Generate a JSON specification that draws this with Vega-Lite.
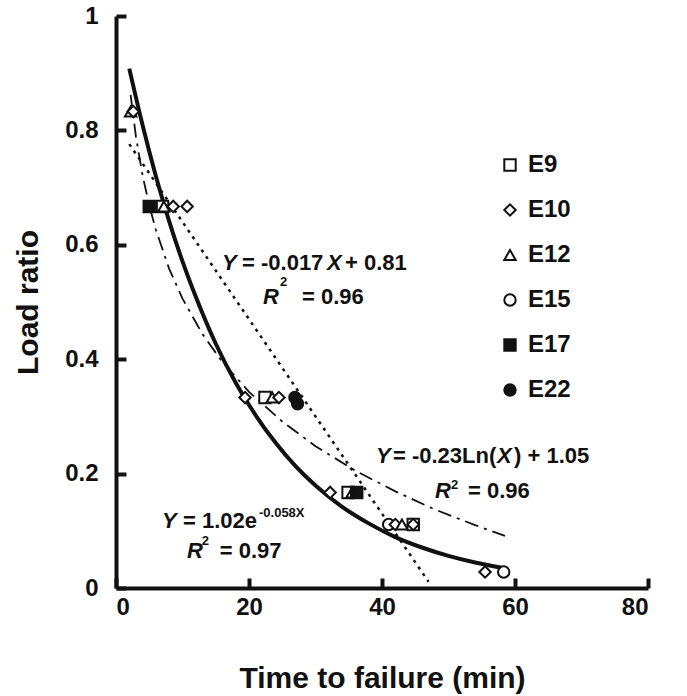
{
  "$schema": "https://vega.github.io/schema/vega-lite/v6.json",
  "width": 532,
  "height": 572,
  "autosize": "none",
  "padding": {"left": 116, "top": 16, "right": 39, "bottom": 108},
  "background": "white",
  "config": {
    "view": {"stroke": null},
    "font": "Liberation Sans",
    "axis": {
      "grid": false,
      "domainColor": "#111",
      "domainWidth": 4,
      "tickColor": "#111",
      "tickWidth": 4,
      "tickSize": -10,
      "labelFont": "Liberation Sans",
      "labelFontWeight": "bold",
      "labelFontSize": 24,
      "labelColor": "#111",
      "titleFont": "Liberation Sans",
      "titleFontWeight": "bold",
      "titleFontSize": 30,
      "titleColor": "#111"
    },
    "legend": {
      "orient": "none", "legendX": 382, "legendY": 137, "title": null,
      "labelFontSize": 24, "labelFontWeight": "bold", "labelFont": "Liberation Sans", "labelColor": "#111",
      "symbolSize": 130, "symbolStrokeWidth": 2, "symbolOpacity": 1,
      "rowPadding": 21, "labelOffset": 6, "padding": 0
    }
  },
  "datasets": {
    "points": [
      {"x": 2.2, "y": 0.833, "series": "E12"},
      {"x": 2.6, "y": 0.833, "series": "E10"},
      {"x": 5.0, "y": 0.667, "series": "E17"},
      {"x": 7.0, "y": 0.667, "series": "E9"},
      {"x": 7.2, "y": 0.667, "series": "E12"},
      {"x": 8.6, "y": 0.667, "series": "E10"},
      {"x": 10.7, "y": 0.667, "series": "E10"},
      {"x": 19.4, "y": 0.333, "series": "E10"},
      {"x": 22.4, "y": 0.333, "series": "E9"},
      {"x": 23.5, "y": 0.333, "series": "E12"},
      {"x": 24.5, "y": 0.333, "series": "E10"},
      {"x": 26.9, "y": 0.333, "series": "E22"},
      {"x": 27.3, "y": 0.322, "series": "E22"},
      {"x": 32.2, "y": 0.167, "series": "E10"},
      {"x": 34.9, "y": 0.167, "series": "E9"},
      {"x": 35.5, "y": 0.167, "series": "E12"},
      {"x": 36.2, "y": 0.167, "series": "E17"},
      {"x": 41.0, "y": 0.111, "series": "E15"},
      {"x": 42.0, "y": 0.111, "series": "E10"},
      {"x": 43.0, "y": 0.111, "series": "E12"},
      {"x": 44.7, "y": 0.111, "series": "E9"},
      {"x": 44.7, "y": 0.111, "series": "E10"},
      {"x": 55.5, "y": 0.028, "series": "E10"},
      {"x": 58.3, "y": 0.028, "series": "E15"}
    ],
    "expCurve": [
      {"x": 2, "y": 0.908}, {"x": 4, "y": 0.809}, {"x": 6, "y": 0.72}, {"x": 8, "y": 0.641},
      {"x": 10, "y": 0.571}, {"x": 12, "y": 0.509}, {"x": 15, "y": 0.427}, {"x": 18, "y": 0.359},
      {"x": 21, "y": 0.302}, {"x": 24, "y": 0.254}, {"x": 27, "y": 0.213}, {"x": 30, "y": 0.179},
      {"x": 34, "y": 0.142}, {"x": 38, "y": 0.113}, {"x": 42, "y": 0.089}, {"x": 46, "y": 0.0708},
      {"x": 50, "y": 0.0561}, {"x": 54, "y": 0.0445}, {"x": 58, "y": 0.0353}
    ],
    "linCurve": [
      {"x": 2, "y": 0.776}, {"x": 47, "y": 0.011}
    ],
    "logCurve": [
      {"x": 2.2, "y": 0.862}, {"x": 3, "y": 0.789}, {"x": 4, "y": 0.721}, {"x": 5, "y": 0.669},
      {"x": 6, "y": 0.626}, {"x": 8, "y": 0.558}, {"x": 10, "y": 0.506}, {"x": 13, "y": 0.444},
      {"x": 16, "y": 0.395}, {"x": 20, "y": 0.343}, {"x": 25, "y": 0.291}, {"x": 30, "y": 0.248},
      {"x": 36, "y": 0.205}, {"x": 42, "y": 0.169}, {"x": 48, "y": 0.137}, {"x": 54, "y": 0.11},
      {"x": 58.5, "y": 0.091}
    ],
    "eqNormal": [
      {"x": 18.95, "y": 0.556, "t": "= -0.017"},
      {"x": 34.44, "y": 0.556, "t": "+ 0.81"},
      {"x": 27.97, "y": 0.4965, "t": "= 0.96"},
      {"x": 41.65, "y": 0.2185, "t": "= -0.23Ln("},
      {"x": 59.85, "y": 0.2185, "t": ") + 1.05"},
      {"x": 52.93, "y": 0.157, "t": "= 0.96"},
      {"x": 10.08, "y": 0.105, "t": "= 1.02e"},
      {"x": 15.6, "y": 0.052, "t": "= 0.97"}
    ],
    "eqItalic": [
      {"x": 15.94, "y": 0.556, "t": "Y"},
      {"x": 31.73, "y": 0.556, "t": "X"},
      {"x": 22.1, "y": 0.4965, "t": "R"},
      {"x": 39.1, "y": 0.2185, "t": "Y"},
      {"x": 57.3, "y": 0.2185, "t": "X"},
      {"x": 47.97, "y": 0.157, "t": "R"},
      {"x": 6.92, "y": 0.105, "t": "Y"},
      {"x": 10.68, "y": 0.052, "t": "R"}
    ],
    "supNormal": [
      {"x": 24.66, "y": 0.528, "t": "2"},
      {"x": 50.38, "y": 0.173, "t": "2"},
      {"x": 12.9, "y": 0.076, "t": "2"},
      {"x": 21.5, "y": 0.124, "t": "-0.058X"}
    ]
  },
  "layer": [
    {
      "data": {"name": "linCurve"},
      "mark": {"type": "line", "color": "#111", "strokeWidth": 2.5, "strokeDash": [3, 5]},
      "encoding": {
        "x": {"field": "x", "type": "quantitative", "scale": {"domain": [0, 80]},
              "axis": {"values": [0, 20, 40, 60, 80], "title": "Time to failure (min)", "labelPadding": 17, "titlePadding": 44}},
        "y": {"field": "y", "type": "quantitative", "scale": {"domain": [0, 1]},
              "axis": {"values": [0, 0.2, 0.4, 0.6, 0.8, 1], "format": "~g", "title": "Load ratio", "labelPadding": 28, "titlePadding": 21}}
      }
    },
    {
      "data": {"name": "logCurve"},
      "mark": {"type": "line", "color": "#111", "strokeWidth": 1.8, "strokeDash": [14, 6, 3, 6]},
      "encoding": {
        "x": {"field": "x", "type": "quantitative"},
        "y": {"field": "y", "type": "quantitative"}
      }
    },
    {
      "data": {"name": "expCurve"},
      "mark": {"type": "line", "color": "#111", "strokeWidth": 4, "interpolate": "monotone"},
      "encoding": {
        "x": {"field": "x", "type": "quantitative"},
        "y": {"field": "y", "type": "quantitative"}
      }
    },
    {
      "data": {"name": "points"},
      "mark": {"type": "point", "filled": true, "strokeWidth": 2, "size": 130, "opacity": 1},
      "encoding": {
        "x": {"field": "x", "type": "quantitative"},
        "y": {"field": "y", "type": "quantitative"},
        "shape": {"field": "series", "type": "nominal",
                  "scale": {"domain": ["E9", "E10", "E12", "E15", "E17", "E22"],
                            "range": ["square", "diamond", "triangle-up", "circle", "square", "circle"]}},
        "fill": {"field": "series", "type": "nominal",
                 "scale": {"domain": ["E9", "E10", "E12", "E15", "E17", "E22"],
                           "range": ["white", "white", "white", "white", "#111", "#111"]}},
        "stroke": {"field": "series", "type": "nominal",
                   "scale": {"domain": ["E9", "E10", "E12", "E15", "E17", "E22"],
                             "range": ["#111", "#111", "#111", "#111", "#111", "#111"]}}
      }
    },
    {
      "data": {"name": "eqNormal"},
      "mark": {"type": "text", "align": "left", "baseline": "alphabetic", "fontSize": 22, "fontWeight": "bold", "font": "Liberation Sans", "color": "#111"},
      "encoding": {
        "x": {"field": "x", "type": "quantitative"},
        "y": {"field": "y", "type": "quantitative"},
        "text": {"field": "t"}
      }
    },
    {
      "data": {"name": "eqItalic"},
      "mark": {"type": "text", "align": "left", "baseline": "alphabetic", "fontSize": 22, "fontWeight": "bold", "fontStyle": "italic", "font": "Liberation Sans", "color": "#111"},
      "encoding": {
        "x": {"field": "x", "type": "quantitative"},
        "y": {"field": "y", "type": "quantitative"},
        "text": {"field": "t"}
      }
    },
    {
      "data": {"name": "supNormal"},
      "mark": {"type": "text", "align": "left", "baseline": "alphabetic", "fontSize": 13, "fontWeight": "bold", "font": "Liberation Sans", "color": "#111"},
      "encoding": {
        "x": {"field": "x", "type": "quantitative"},
        "y": {"field": "y", "type": "quantitative"},
        "text": {"field": "t"}
      }
    }
  ]
}
